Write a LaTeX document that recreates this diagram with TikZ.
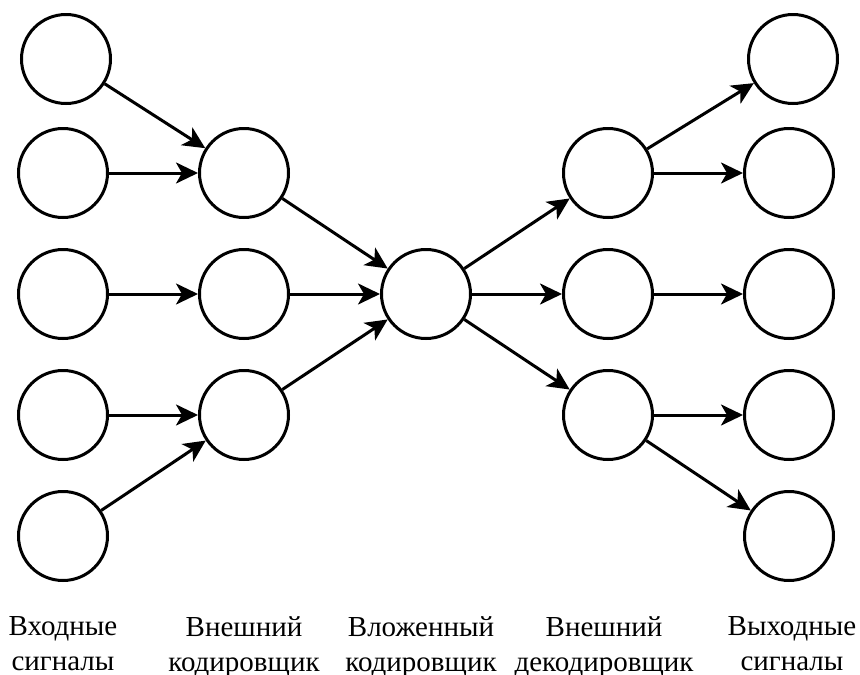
\documentclass[tikz,border=0pt]{standalone}
\usepackage{fontspec}
\setmainfont{Liberation Serif}
\usetikzlibrary{arrows.meta}
\begin{document}
\begin{tikzpicture}[x=1pt,y=-1pt,
  neuron/.style={circle,draw=black,line width=3pt,minimum size=89pt,inner sep=0pt,fill=white},
  conn/.style={line width=3pt,-{Stealth[length=22pt,width=21pt,inset=6pt]}},
  lbl/.style={align=center,inner sep=0pt,anchor=north,font=\fontsize{29}{35}\selectfont}]
\useasboundingbox[fill=white] (0,0) rectangle (860,675);
% column 1: inputs
\node[neuron] (a1) at (66,59) {};
\node[neuron] (a2) at (63,173) {};
\node[neuron] (a3) at (63,294) {};
\node[neuron] (a4) at (63,415) {};
\node[neuron] (a5) at (63,536) {};
% column 2: outer encoder
\node[neuron] (b2) at (244,173) {};
\node[neuron] (b3) at (244,294) {};
\node[neuron] (b4) at (244,415) {};
% column 3: inner encoder
\node[neuron] (c3) at (426,294) {};
% column 4: outer decoder
\node[neuron] (d2) at (608,173) {};
\node[neuron] (d3) at (608,294) {};
\node[neuron] (d4) at (608,415) {};
% column 5: outputs
\node[neuron] (e1) at (793,59) {};
\node[neuron] (e2) at (789,173) {};
\node[neuron] (e3) at (789,294) {};
\node[neuron] (e4) at (789,415) {};
\node[neuron] (e5) at (789,536) {};
% connectors
\draw[conn] (a1) -- (b2);
\draw[conn] (a2) -- (b2);
\draw[conn] (a3) -- (b3);
\draw[conn] (a4) -- (b4);
\draw[conn] (a5) -- (b4);
\draw[conn] (b2) -- (c3);
\draw[conn] (b3) -- (c3);
\draw[conn] (b4) -- (c3);
\draw[conn] (c3) -- (d2);
\draw[conn] (c3) -- (d3);
\draw[conn] (c3) -- (d4);
\draw[conn] (d2) -- (e1);
\draw[conn] (d2) -- (e2);
\draw[conn] (d3) -- (e3);
\draw[conn] (d4) -- (e4);
\draw[conn] (d4) -- (e5);
% labels
\node[lbl] (la) at (63,616) {Входные\\сигналы};
\node[lbl] (lb) at (244,616) {Внешний\\кодировщик};
\node[lbl] (lc) at (421,616) {Вложенный\\кодировщик};
\node[lbl] (ld) at (604,616) {Внешний\\декодировщик};
\node[lbl] (le) at (792,616) {Выходные\\сигналы};
\end{tikzpicture}
\end{document}
